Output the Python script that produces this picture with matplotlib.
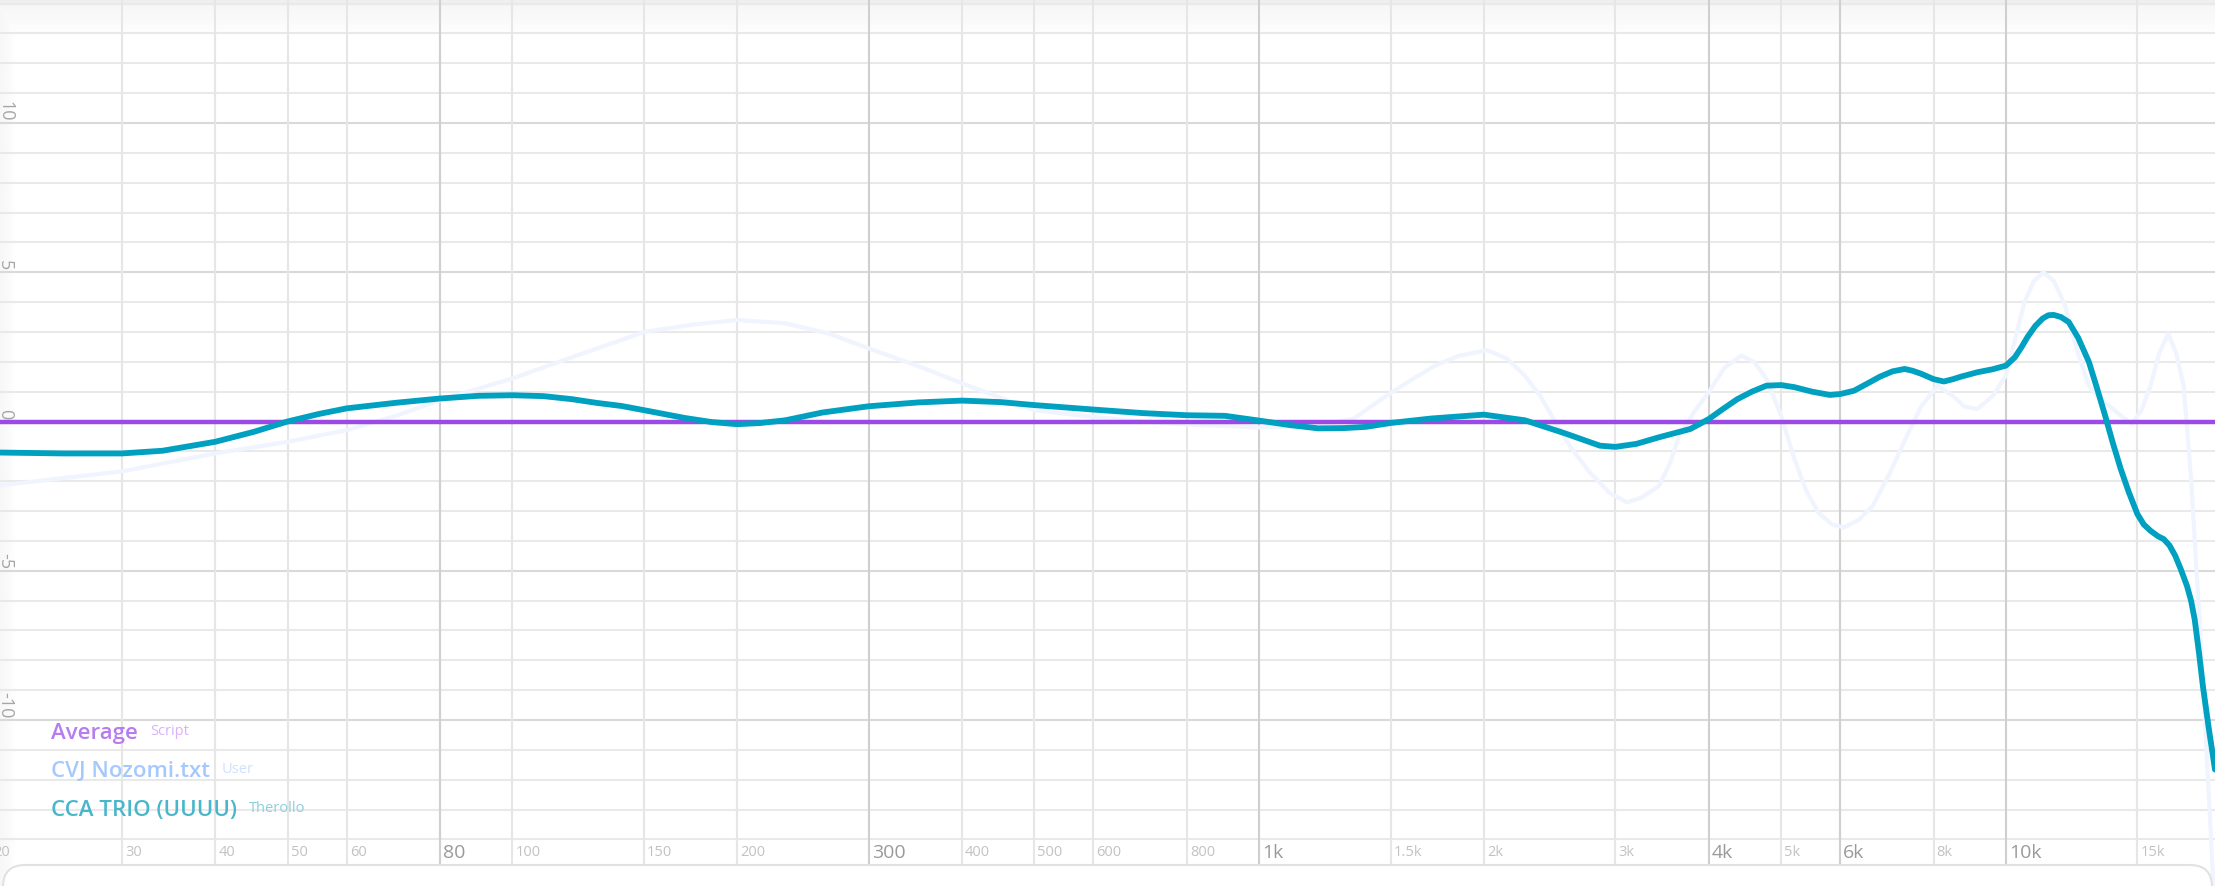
import numpy as np
import matplotlib
matplotlib.use("Agg")
import matplotlib.pyplot as plt
from matplotlib.transforms import offset_copy, IdentityTransform
from matplotlib.patches import FancyBboxPatch
from matplotlib.lines import Line2D

plt.rcParams["font.family"] = ["Open Sans", "DejaVu Sans"]

# --- data -------------------------------------------------------------------
trio_freq = [20.6, 25, 30, 34, 40, 45, 50, 55, 60, 70, 80, 90, 100, 110, 120,
             130, 140, 150, 170, 185, 200, 215, 232, 260, 300, 350, 400, 450,
             500, 600, 700, 800, 900, 1000, 1100, 1200, 1300, 1390, 1500, 1700,
             2000, 2270, 2570, 2860, 3000, 3200, 3430, 3780, 4000, 4180, 4370,
             4570, 4780, 5000, 5210, 5500, 5810, 6000, 6260, 6500, 6780, 7050,
             7320, 7500, 7700, 8000, 8260, 8500, 8700, 9160, 9600, 10000,
             10280, 10500, 10690, 10950, 11200, 11400, 11590, 11850, 12140,
             12500, 12920, 13250, 13580, 13900, 14250, 14600, 15000, 15300,
             15620, 16000, 16270, 16560, 16860, 17150, 17480, 17700, 17900,
             18150, 18360, 18700, 19057]
trio_db = [-1.04, -1.07, -1.07, -0.98, -0.68, -0.35, 0.0, 0.25, 0.44, 0.63,
           0.77, 0.86, 0.88, 0.85, 0.75, 0.62, 0.52, 0.38, 0.12, -0.02, -0.09,
           -0.05, 0.04, 0.30, 0.51, 0.64, 0.70, 0.65, 0.55, 0.40, 0.28, 0.21,
           0.19, 0.03, -0.12, -0.23, -0.22, -0.18, -0.05, 0.10, 0.23, 0.04,
           -0.40, -0.81, -0.85, -0.75, -0.53, -0.25, 0.08, 0.42, 0.75, 1.00,
           1.20, 1.22, 1.15, 1.00, 0.89, 0.92, 1.03, 1.25, 1.50, 1.68, 1.76,
           1.70, 1.60, 1.42, 1.34, 1.42, 1.50, 1.65, 1.75, 1.87, 2.15, 2.50,
           2.83, 3.20, 3.45, 3.56, 3.57, 3.50, 3.33, 2.80, 1.99, 1.10, 0.20,
           -0.70, -1.59, -2.35, -3.10, -3.45, -3.66, -3.85, -3.94, -4.15,
           -4.50, -4.95, -5.51, -6.00, -6.63, -7.80, -8.87, -10.30, -11.66]

nozomi_freq = [20.6, 30, 40, 50, 60, 70, 80, 90, 100, 120, 140, 150, 175,
               200, 232, 265, 300, 350, 400, 450, 500, 600, 700, 800, 1000,
               1200, 1340, 1420, 1500, 1600, 1720, 1850, 2020, 2150, 2270,
               2380, 2480, 2620, 2770, 2950, 3110, 3250, 3430, 3550, 3650,
               3820, 4000, 4200, 4420, 4600, 4780, 5000, 5210, 5400, 5610,
               5850, 6070, 6350, 6630, 7000, 7370, 7700, 8100, 8500, 8800,
               9160, 9600, 10000, 10300, 10590, 10900, 11230, 11600, 12000,
               12450, 12920, 13300, 13750, 14250, 14760, 15200, 15620, 16050,
               16500, 16900, 17300, 17700, 18300, 18900, 19057]
nozomi_db = [-2.14, -1.67, -1.07, -0.68, -0.29, 0.20, 0.71, 1.10, 1.44, 2.15,
             2.73, 3.00, 3.25, 3.40, 3.29, 2.95, 2.45, 1.85, 1.28, 0.80, 0.38,
             0.15, 0.00, -0.10, -0.20, -0.15, 0.10, 0.55, 0.95, 1.40, 1.87,
             2.20, 2.39, 2.10, 1.53, 0.85, 0.08, -0.90, -1.70, -2.40, -2.71,
             -2.55, -2.16, -1.40, -0.48, 0.30, 0.98, 1.80, 2.21, 2.00, 1.43,
             0.20, -1.26, -2.30, -3.05, -3.45, -3.55, -3.30, -2.83, -1.70,
             -0.48, 0.50, 1.20, 0.85, 0.50, 0.42, 0.85, 1.54, 2.80, 4.00,
             4.70, 5.00, 4.70, 3.89, 2.40, 1.20, 0.80, 0.53, 0.20, -0.08,
             0.40, 1.20, 2.30, 2.94, 2.30, 1.20, -1.90, -8.00, -14.80, -16.50]

avg_freq = [20, 20000]
avg_db = [0, 0]

minor_ticks = [20, 30, 40, 50, 60, 100, 150, 200, 400, 500, 600, 800,
               1500, 2000, 3000, 5000, 8000, 15000]
minor_labels = ["20", "30", "40", "50", "60", "100", "150", "200", "400",
                "500", "600", "800", "1.5k", "2k", "3k", "5k", "8k", "15k"]
major_ticks = [80, 300, 1000, 4000, 6000, 10000]
major_labels = ["80", "300", "1k", "4k", "6k", "10k"]
db_ticks = [-10, -5, 0, 5, 10]

legend_names = ["Average", "CVJ Nozomi.txt", "CCA TRIO (UUUU)"]
legend_tags = ["Script", "User", "Therollo"]

# --- figure ----------------------------------------------------------------
W, H = 2215, 887
fig = plt.figure(figsize=(W / 100, H / 100), dpi=100)
fig.patch.set_facecolor("white")

# soft header / left shading behind the grid
bg = fig.add_axes([0, 0, 1, 1], zorder=0)
rows = np.ones((H, 1))
rows[:5] = 0.935
rows[5:41, 0] = np.linspace(0.962, 1.0, 36)
cols = np.ones((1, W))
cols[0, :18] = np.linspace(0.965, 1.0, 18)
shade = np.minimum(rows, cols)
bg.imshow(shade, cmap="gray", vmin=0, vmax=1, aspect="auto",
          extent=[0, 1, 0, 1], interpolation="bilinear")
bg.axis("off")

ax = fig.add_axes([0, 0, 1, 1], zorder=1)
ax.patch.set_alpha(0)
ax.set_xscale("log")
PX_DB = 29.85   # pixels per dB
ZERO_Y = 422.5  # pixel row of 0 dB
ax.set_xlim(20.6, 19057)
ax.set_ylim((ZERO_Y - H) / PX_DB, ZERO_Y / PX_DB)
ax.axis("off")

# horizontal grid, one per dB, darker each 5 dB
for d in range(-14, 15):
    c = "#d9d9d9" if d % 5 == 0 else "#e9e9e9"
    ax.axhline(d, color=c, lw=1.5, zorder=1)

# vertical grid down to the panel edge
y_grid_bottom = (ZERO_Y - 866) / PX_DB
y_top = ZERO_Y / PX_DB
ax.vlines(minor_ticks, y_grid_bottom, y_top, color="#e6e6e6", lw=1.5, zorder=1)
ax.vlines(major_ticks, y_grid_bottom, y_top, color="#cfcfcf", lw=1.5, zorder=1)

# frequency labels
lab_y = (ZERO_Y - 853) / PX_DB
shift = offset_copy(ax.transData, fig=fig, x=3, y=0, units="dots")
for f, s in zip(minor_ticks, minor_labels):
    ax.text(f, lab_y, s, transform=shift, fontsize=10.5, color="#c2c2c2",
            ha="left", va="center")
for f, s in zip(major_ticks, major_labels):
    ax.text(f, lab_y, s, transform=shift, fontsize=14, color="#9a9a9a",
            ha="left", va="center")

# dB labels, rotated, sitting just above their lines
dshift = offset_copy(ax.transData, fig=fig, x=0, y=3, units="dots")
for d in db_ticks:
    ax.text(20.6, d, str(d), transform=dshift, fontsize=13,
            color="#a6a6a6", rotation=-90, rotation_mode="anchor",
            ha="right", va="baseline")

# curves
ax.plot(nozomi_freq, nozomi_db, color="#eff4fe", lw=3, zorder=3,
        solid_joinstyle="round", solid_capstyle="round")
ax.plot(avg_freq, avg_db, color="#9b4ae6", lw=3.2, zorder=4)
ax.plot(trio_freq, trio_db, color="#00a0c0", lw=4.2, zorder=5,
        solid_joinstyle="round", solid_capstyle="round")

# legend in the lower left corner
name_colors = ["#b67cf0", "#a6c9fd", "#48b6cb"]
tag_colors = ["#d8b3f8", "#cfe0ff", "#8ccfde"]
name_base = [739, 777, 816]
tag_base = [735, 773, 812]
fig.canvas.draw()
renderer = fig.canvas.get_renderer()
for name, tag, nc, tc, nb, tb in zip(legend_names, legend_tags, name_colors,
                                     tag_colors, name_base, tag_base):
    t = fig.text(51 / W, 1 - nb / H, name, fontsize=16, color=nc,
                 fontweight="semibold", ha="left", va="baseline", zorder=6)
    x_end = t.get_window_extent(renderer).x1
    fig.text((x_end + 12) / W, 1 - tb / H, tag, fontsize=10.5, color=tc,
             ha="left", va="baseline", zorder=6)

# rounded panel under the chart
panel = FancyBboxPatch((3, -40), W - 6, 40 + (H - 866),
                       boxstyle="round,pad=0,rounding_size=22",
                       transform=IdentityTransform(), facecolor="white",
                       edgecolor="#e2e2e2", lw=1.5, zorder=2)
fig.patches.append(panel)
for xm in [676, 1710]:
    fig.lines.append(Line2D([xm, xm], [0, 6], transform=IdentityTransform(),
                            color="#d6d6d6", lw=1))

fig.savefig("out.png", dpi=100)
